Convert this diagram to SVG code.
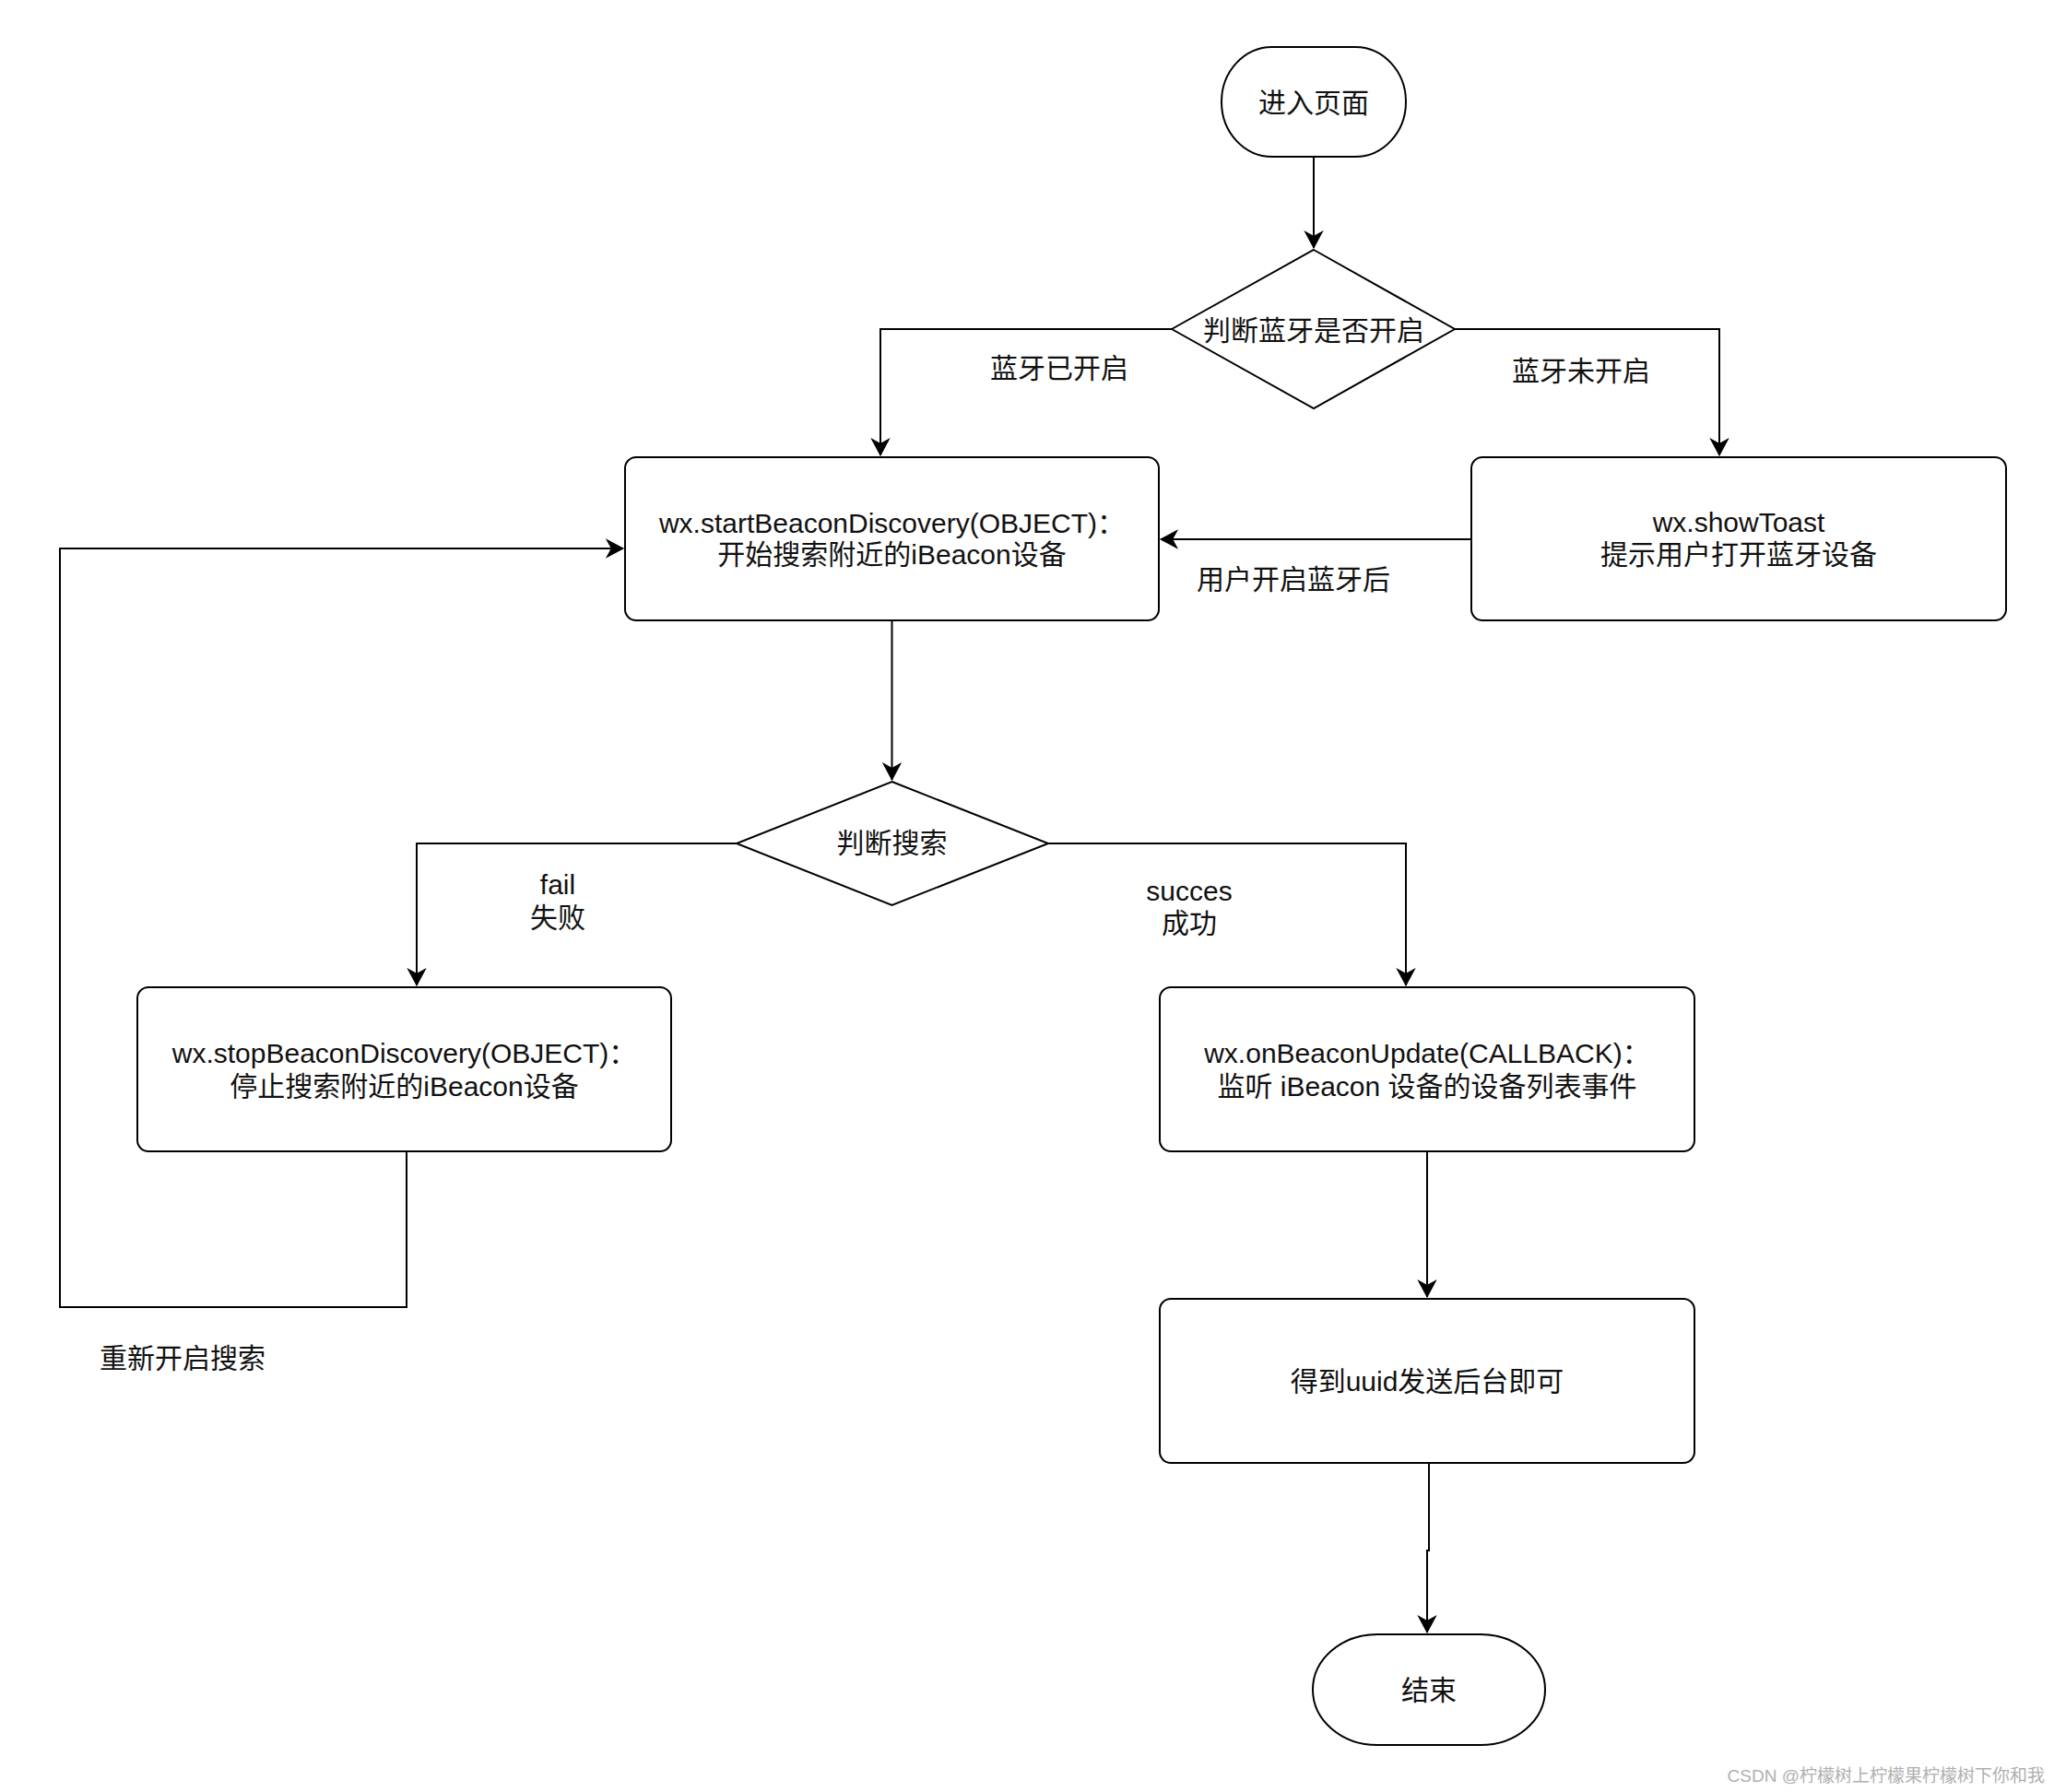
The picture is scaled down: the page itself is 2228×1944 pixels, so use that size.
<svg xmlns="http://www.w3.org/2000/svg" width="2228" height="1944" viewBox="0 0 2228 1944">
<style>
.n{fill:#fff;stroke:#000;stroke-width:2}
.t{font-family:"Liberation Sans","Noto Sans CJK SC",sans-serif;font-size:30px;fill:#111;text-anchor:middle}
.c{fill:none;stroke:#000;stroke-width:2}
.wm{font-family:"Liberation Sans","Noto Sans CJK SC",sans-serif;font-size:19px;fill:#b0b0b0;text-anchor:end}
</style>
<defs>
<marker id="arr" markerUnits="userSpaceOnUse" markerWidth="22" markerHeight="22" viewBox="-19 -10 21 20" refX="0" refY="0" orient="auto">
<path d="M0,0 L-17,-9 L-12,0 L-17,9 Z" fill="#000" stroke="#000" stroke-width="1"/>
</marker>
</defs>
<rect width="2228" height="1944" fill="#fff"/>
<g id="connectors">
<path class="c" d="M1425,170 L1425,269" marker-end="url(#arr)"/>
<path class="c" d="M1271,357 L955,357 L955,494" marker-end="url(#arr)"/>
<path class="c" d="M1578,357 L1865,357 L1865,494" marker-end="url(#arr)"/>
<path class="c" d="M1596,585 L1259,585" marker-end="url(#arr)"/>
<path class="c" d="M967.5,673 L967.5,846" marker-end="url(#arr)"/>
<path class="c" d="M799,915 L452,915 L452,1069" marker-end="url(#arr)"/>
<path class="c" d="M1137,915 L1525,915 L1525,1069" marker-end="url(#arr)"/>
<path class="c" d="M441,1249 L441,1418 L65,1418 L65,595 L676,595" marker-end="url(#arr)"/>
<path class="c" d="M1548,1249 L1548,1407" marker-end="url(#arr)"/>
<path class="c" d="M1550,1587 L1550,1682 L1548,1682 L1548,1771" marker-end="url(#arr)"/>
<text class="t" x="1149" y="410">蓝牙已开启</text>
<text class="t" x="1715" y="413">蓝牙未开启</text>
<text class="t" x="1403" y="639">用户开启蓝牙后</text>
<text class="t" x="605" y="970">fail</text>
<text class="t" x="605" y="1006">失败</text>
<text class="t" x="1290" y="977">succes</text>
<text class="t" x="1290" y="1012">成功</text>
<text class="t" x="198" y="1484">重新开启搜索</text>
</g>
<g id="start">
<rect class="n" x="1325" y="51" width="200" height="119" rx="55" ry="59.5"/>
<text class="t" x="1425" y="122">进入页面</text>
</g>
<g id="check-bluetooth">
<polygon class="n" points="1425,271 1578,357 1425,443 1271,357"/>
<text class="t" x="1425" y="369">判断蓝牙是否开启</text>
</g>
<g id="start-discovery">
<rect class="n" x="678" y="496" width="579" height="177" rx="12" ry="12"/>
<text class="t" x="967.5" y="578">wx.startBeaconDiscovery(OBJECT)：</text>
<text class="t" x="967.5" y="612">开始搜索附近的iBeacon设备</text>
</g>
<g id="show-toast">
<rect class="n" x="1596" y="496" width="580" height="177" rx="12" ry="12"/>
<text class="t" x="1886" y="577">wx.showToast</text>
<text class="t" x="1886" y="612">提示用户打开蓝牙设备</text>
</g>
<g id="check-search">
<polygon class="n" points="967.5,848 1137,915 967.5,982 799,915"/>
<text class="t" x="967.5" y="925">判断搜索</text>
</g>
<g id="stop-discovery">
<rect class="n" x="149" y="1071" width="579" height="178" rx="12" ry="12"/>
<text class="t" x="438.5" y="1153">wx.stopBeaconDiscovery(OBJECT)：</text>
<text class="t" x="438.5" y="1189">停止搜索附近的iBeacon设备</text>
</g>
<g id="beacon-update">
<rect class="n" x="1258" y="1071" width="580" height="178" rx="12" ry="12"/>
<text class="t" x="1548" y="1153">wx.onBeaconUpdate(CALLBACK)：</text>
<text class="t" x="1548" y="1189">监听 iBeacon 设备的设备列表事件</text>
</g>
<g id="send-uuid">
<rect class="n" x="1258" y="1409" width="580" height="178" rx="12" ry="12"/>
<text class="t" x="1548" y="1509">得到uuid发送后台即可</text>
</g>
<g id="end">
<rect class="n" x="1424" y="1773" width="252" height="120" rx="70" ry="60"/>
<text class="t" x="1550" y="1844">结束</text>
</g>
<text class="wm" x="2218" y="1933">CSDN @柠檬树上柠檬果柠檬树下你和我</text>
</svg>
